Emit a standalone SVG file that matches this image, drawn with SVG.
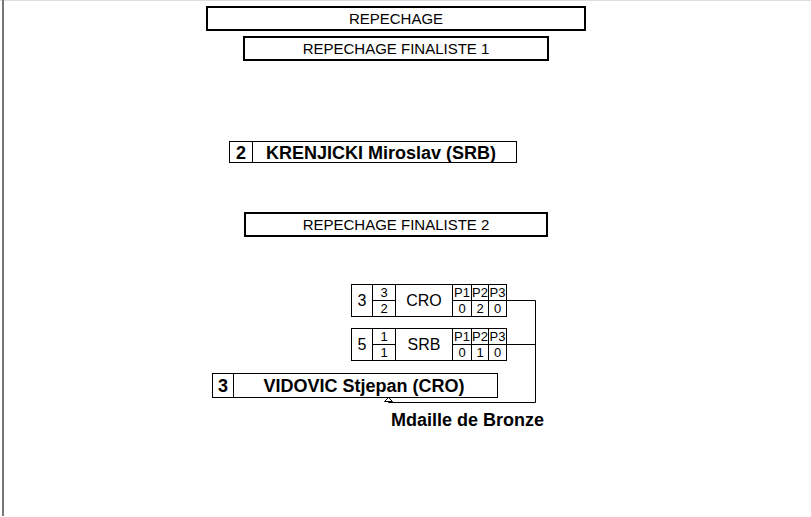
<svg xmlns="http://www.w3.org/2000/svg" width="811" height="517" viewBox="0 0 811 517">
<style>
.hdr{fill:#fff;stroke:#000;stroke-width:2}
.cell{fill:#fff;stroke:#000;stroke-width:1}
.ln{stroke:#000;stroke-width:1;fill:none}
.t{font-family:"Liberation Sans",Arial,sans-serif;fill:#000}
.h{font-size:15px}
.b{font-weight:bold;font-size:18px}
.c{text-anchor:middle}
.s{font-size:13px}
.m{font-size:16px}
</style>
<rect x="0" y="0" width="811" height="517" fill="#fff"/>
<line x1="0" y1="0.5" x2="811" y2="0.5" stroke="#ddd" stroke-width="1"/>
<line x1="3" y1="0" x2="3" y2="516" stroke="#777" stroke-width="2"/>

<g id="repechage">
<rect class="hdr" x="207" y="7" width="378" height="23"/>
<text class="t h c" x="396" y="23.5">REPECHAGE</text>
</g>
<g id="finaliste1">
<rect class="hdr" x="244" y="37" width="304" height="23"/>
<text class="t h c" x="396" y="53.5">REPECHAGE FINALISTE 1</text>
</g>
<g id="krenjicki">
<rect class="cell" x="229.5" y="141.5" width="287" height="21"/>
<line class="ln" x1="252.5" y1="141.5" x2="252.5" y2="162.5"/>
<text class="t b c" x="241" y="158.5">2</text>
<text class="t b c" x="381" y="158.5">KRENJICKI Miroslav (SRB)</text>
</g>
<g id="finaliste2">
<rect class="hdr" x="245" y="213" width="302" height="23"/>
<text class="t h c" x="396" y="229.5">REPECHAGE FINALISTE 2</text>
</g>

<g id="match1">
<rect class="cell" x="351.5" y="284.5" width="155" height="32"/>
<line class="ln" x1="372.5" y1="284.5" x2="372.5" y2="316.5"/>
<line class="ln" x1="395.5" y1="284.5" x2="395.5" y2="316.5"/>
<line class="ln" x1="452.5" y1="284.5" x2="452.5" y2="316.5"/>
<line class="ln" x1="471.5" y1="284.5" x2="471.5" y2="316.5"/>
<line class="ln" x1="488.5" y1="284.5" x2="488.5" y2="316.5"/>
<line class="ln" x1="372.5" y1="300.5" x2="395.5" y2="300.5"/>
<line class="ln" x1="452.5" y1="300.5" x2="506.5" y2="300.5"/>
<text class="t m c" x="362" y="306">3</text>
<text class="t s c" x="384" y="297">3</text>
<text class="t s c" x="384" y="313">2</text>
<text class="t m c" x="424" y="306">CRO</text>
<text class="t s c" x="462" y="297">P1</text>
<text class="t s c" x="480" y="297">P2</text>
<text class="t s c" x="497.5" y="297">P3</text>
<text class="t s c" x="462" y="313">0</text>
<text class="t s c" x="480" y="313">2</text>
<text class="t s c" x="497.5" y="313">0</text>
</g>

<g id="match2">
<rect class="cell" x="351.5" y="328.5" width="155" height="32"/>
<line class="ln" x1="372.5" y1="328.5" x2="372.5" y2="360.5"/>
<line class="ln" x1="395.5" y1="328.5" x2="395.5" y2="360.5"/>
<line class="ln" x1="452.5" y1="328.5" x2="452.5" y2="360.5"/>
<line class="ln" x1="471.5" y1="328.5" x2="471.5" y2="360.5"/>
<line class="ln" x1="488.5" y1="328.5" x2="488.5" y2="360.5"/>
<line class="ln" x1="372.5" y1="344.5" x2="395.5" y2="344.5"/>
<line class="ln" x1="452.5" y1="344.5" x2="506.5" y2="344.5"/>
<text class="t m c" x="362" y="350">5</text>
<text class="t s c" x="384" y="341">1</text>
<text class="t s c" x="384" y="357">1</text>
<text class="t m c" x="424" y="350">SRB</text>
<text class="t s c" x="462" y="341">P1</text>
<text class="t s c" x="480" y="341">P2</text>
<text class="t s c" x="497.5" y="341">P3</text>
<text class="t s c" x="462" y="357">0</text>
<text class="t s c" x="480" y="357">1</text>
<text class="t s c" x="497.5" y="357">0</text>
</g>

<g id="vidovic">
<rect class="cell" x="212.5" y="373.5" width="285" height="24"/>
<line class="ln" x1="233.5" y1="373.5" x2="233.5" y2="397.5"/>
<text class="t b c" x="223" y="392">3</text>
<text class="t b c" x="364" y="392">VIDOVIC Stjepan (CRO)</text>
</g>

<g id="connectors">
<path class="ln" d="M506.5,300.5 H535.5 V402.5 H388.5 V400" stroke="#444"/>
<line class="ln" x1="506.5" y1="344.5" x2="535.5" y2="344.5"/>
<path d="M388.5,397.5 L384.5,401.5 L392.5,401.5 Z" fill="#fff" stroke="#000" stroke-width="1"/>
</g>

<g id="bronze">
<text class="t b" x="391" y="426">Mdaille de Bronze</text>
</g>
</svg>
